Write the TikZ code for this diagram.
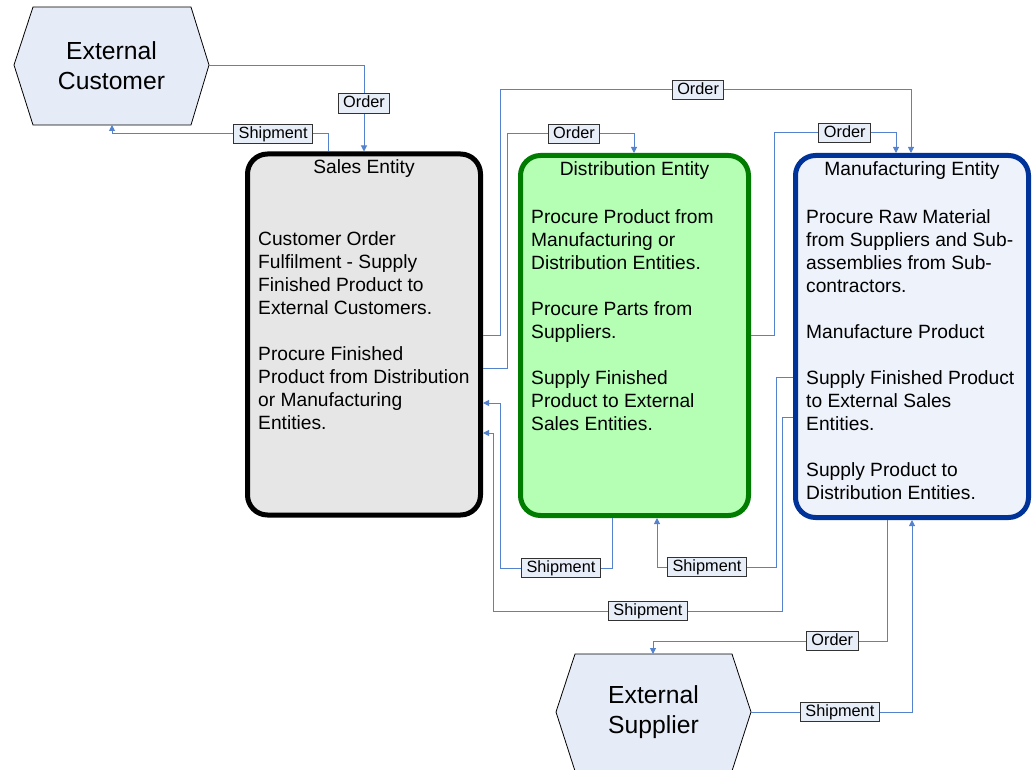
\documentclass[tikz,border=0pt]{standalone}
\usepackage{fontspec}
\setmainfont{Liberation Sans}
\usetikzlibrary{arrows.meta}
\definecolor{conn}{RGB}{84,130,205}
\definecolor{hexfill}{RGB}{229,235,247}
\definecolor{salesfill}{RGB}{230,230,230}
\definecolor{distfill}{RGB}{181,255,181}
\definecolor{distdraw}{RGB}{0,125,0}
\definecolor{manfill}{RGB}{238,242,250}
\definecolor{mandraw}{RGB}{0,51,153}
\definecolor{lblfill}{RGB}{232,238,248}
\tikzset{
  entity/.style={draw, line width=5pt, rounded corners=20pt, inner sep=0pt},
  hexshape/.style={draw=black, line width=0.8pt, fill=hexfill},
  hextext/.style={font=\fontsize{24.7}{30}\selectfont, align=center, inner sep=0pt},
  title/.style={font=\fontsize{19.2}{23}\selectfont, anchor=base, inner sep=0pt},
  body/.style={font=\fontsize{19.2}{23}\selectfont, anchor=base west, align=left, inner sep=0pt},
  conn/.style={draw=conn, line width=1pt},
  arr/.style={conn, -{Triangle[length=6pt,width=6pt]}},
  lbl/.style={draw={rgb,255:red,50;green,50;blue,50}, line width=0.9pt, fill=lblfill, font=\fontsize{16.3}{18}\selectfont, inner xsep=5pt, inner ysep=2pt, text height=12pt, text depth=3.5pt}
}
\begin{document}
\begin{tikzpicture}[x=1pt,y=-1pt]
\useasboundingbox (0,0) rectangle (1036,770);

% External Customer hexagon
\draw[hexshape] (14,65) -- (33,7) -- (191,7) -- (209,65) -- (191,125) -- (33,125) -- cycle;
\node[minimum width=195pt, minimum height=118pt, inner sep=0pt, outer sep=0pt] (cust) at (111.5,66) {};
\node[hextext] (custtxt) at (111.5,66) {External\\Customer};

% External Supplier hexagon
\draw[hexshape] (556,712) -- (575,654) -- (732,654) -- (751,712) -- (732,771) -- (575,771) -- cycle;
\node[minimum width=195pt, minimum height=116pt, inner sep=0pt, outer sep=0pt] (supp) at (653.5,712) {};
\node[hextext] (supptxt) at (653.5,712) {External\\Supplier};

% Entity boxes
\node[entity, fill=salesfill, draw=black, minimum width=233pt, minimum height=361pt] (sales) at (364,334.5) {};
\node[entity, fill=distfill, draw=distdraw, minimum width=228pt, minimum height=360pt] (dist) at (634.5,335.5) {};
\node[entity, fill=manfill, draw=mandraw, minimum width=233pt, minimum height=362pt] (man) at (912,336.5) {};

\node[title] (salest) at (364,174) {Sales Entity};
\node[title] (distt) at (634.5,176) {Distribution Entity};
\node[title] (mant) at (912,176) {Manufacturing Entity};

% (base anchor of a multi-line node = last line's baseline)
\node[body] (salesb) at (258,429) {Customer Order\\Fulfilment - Supply\\Finished Product to\\External Customers.\\[23pt]Procure Finished\\Product from Distribution\\or Manufacturing\\Entities.};
\node[body] (distb) at (531,430) {Procure Product from\\Manufacturing or\\Distribution Entities.\\[23pt]Procure Parts from\\Suppliers.\\[23pt]Supply Finished\\Product to External\\Sales Entities.};
\node[body] (manb) at (806,499) {Procure Raw Material\\from Suppliers and Sub-\\assemblies from Sub-\\contractors.\\[23pt]Manufacture Product\\[23pt]Supply Finished Product\\to External Sales\\Entities.\\[23pt]Supply Product to\\Distribution Entities.};

% Connectors
% Customer -> Sales : Order
\draw[arr] (cust.east) -| (sales.north -| 364,0) node[lbl, pos=0.718] (l1) {Order};
% Sales -> Customer : Shipment
\draw[arr] (sales.north -| 328,0) |- (112,134) node[lbl, pos=0.627] (l2) {Shipment} -- (cust.south -| 112,0);
% Sales -> Manufacturing : Order (outer)
\draw[arr] (sales.east |- 0,335) -- (500,335) |- (911,90) node[lbl, pos=0.741] (l3) {Order} -- (man.north -| 911,0);
% Sales -> Distribution : Order
\draw[arr] (sales.east |- 0,368) -- (507,368) |- (634,134) node[lbl, pos=0.764] (l4) {Order} -- (dist.north -| 634,0);
% Distribution -> Manufacturing : Order
\draw[arr] (dist.east |- 0,335) -- (774,335) |- (896,133) node[lbl, pos=0.79] (l5) {Order} -- (man.north -| 896,0);
% Distribution -> Sales : Shipment
\draw[arr] (dist.south -| 612,0) |- (500,568) node[lbl, pos=0.728] (l6) {Shipment} |- (sales.east |- 0,403);
% Manufacturing -> Distribution : Shipment
\draw[arr] (man.west |- 0,377) -- (776,377) |- (657,567) node[lbl, pos=0.79] (l7) {Shipment} -- (dist.south -| 657,0);
% Manufacturing -> Sales : Shipment
\draw[arr] (man.west |- 0,417) -- (782,417) |- (493,611) node[lbl, pos=0.732] (l8) {Shipment} |- (sales.east |- 0,433);
% Manufacturing -> Supplier : Order
\draw[arr] (man.south -| 887,0) |- (653,641) node[lbl, pos=0.617] (l9) {Order} -- (supp.north -| 653,0);
% Supplier -> Manufacturing : Shipment
\draw[arr] (supp.east) -| (man.south -| 912,0) node[lbl, pos=0.276] (l10) {Shipment};
\end{tikzpicture}
\end{document}
